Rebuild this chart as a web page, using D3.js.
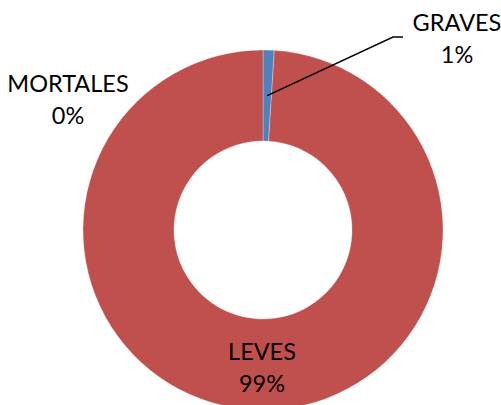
<!DOCTYPE html>
<html><head><meta charset="utf-8">
<script src="https://cdn.jsdelivr.net/npm/d3@7"></script>
<style>body{margin:0;background:#fff}svg{display:block}</style>
</head><body>
<script>
const categories = ["MORTALES", "GRAVES", "LEVES"];
const values = [0, 1, 99];
const percentLabels = ["0%", "1%", "99%"];
const colors = ["#4F81BD", "#4F81BD", "#C0504D"];

const W = 501, H = 405;
const cx = 263, cy = 230, rOuter = 180, rInner = 89;
const svg = d3.select("body").append("svg").attr("width", W).attr("height", H);
const g = svg.append("g").attr("transform", `translate(${cx},${cy})`);

const pie = d3.pie().sort(null).value(d => d.v);
const data = categories.map((c, i) => ({c, v: values[i], p: percentLabels[i], col: colors[i]}));
const arcs = pie(data);
const arc = d3.arc().innerRadius(rInner).outerRadius(rOuter);

g.selectAll("path").data(arcs).enter().append("path")
  .attr("d", arc).attr("fill", d => d.data.col)
  .attr("stroke", "#fff").attr("stroke-opacity", 0.5).attr("stroke-width", 0.6);

const font = "Lato, 'Open Sans', sans-serif";
// label positions (offsets from center, baseline of first line)
const labelPos = {
  "MORTALES": [-195, -138],
  "GRAVES": [194, -199],
  "LEVES": [-1, 130]
};
arcs.forEach(a => {
  const [lx, ly] = labelPos[a.data.c];
  const t = g.append("text").attr("text-anchor", "middle")
    .attr("font-family", font).attr("font-size", 23.5).attr("fill", "#000");
  t.append("tspan").attr("x", lx).attr("y", ly).text(a.data.c);
  t.append("tspan").attr("x", lx).attr("y", ly + 32).text(a.data.p);
  if (a.data.c === "GRAVES") {
    const m = (rInner + rOuter) / 2;
    const ang = (a.startAngle + a.endAngle) / 2;
    const px = Math.sin(ang) * m, py = -Math.cos(ang) * m;
    g.append("polyline")
      .attr("points", `${px},${py} ${lx - 64},${ly + 6} ${lx - 54},${ly + 6}`)
      .attr("fill", "none").attr("stroke", "#000").attr("stroke-width", 1.5);
  }
});
</script>
</body></html>
